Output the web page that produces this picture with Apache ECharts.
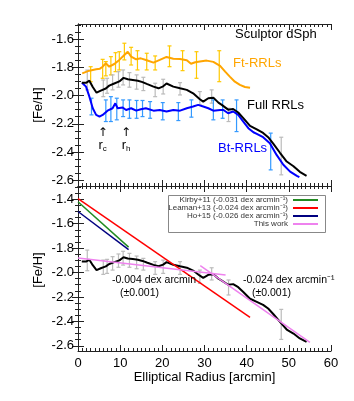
<!DOCTYPE html>
<html><head><meta charset="utf-8">
<script src="https://cdn.jsdelivr.net/npm/echarts@6/dist/echarts.min.js"></script>
<style>html,body{margin:0;padding:0;background:#fff}#c{width:354px;height:401px}</style>
</head><body><div id="c"></div>
<script>
// ---- data (elliptical radius [arcmin], [Fe/H]) ----
const fullRRL = [[0.9,-1.91],[1.9,-1.91],[2.7,-1.895],[3.5,-1.94],[4.4,-1.98],[5.4,-1.965],[6.6,-1.95],[7.4,-1.93],[8.6,-1.915],[9.8,-1.90],[10.8,-1.875],[11.8,-1.885],[13.0,-1.89],[14.2,-1.895],[15.3,-1.905],[16.3,-1.918],[17.9,-1.937],[19.1,-1.949],[20.2,-1.935],[21.0,-1.915],[22.6,-1.937],[24.2,-1.949],[25.8,-1.96],[27.3,-1.984],[28.9,-2.026],[29.7,-2.043],[30.9,-2.019],[32.1,-2.015],[33.3,-2.05],[34.1,-2.066],[35.6,-2.10],[36.8,-2.095],[38.0,-2.12],[39.2,-2.16],[40.8,-2.215],[42.4,-2.24],[43.9,-2.265],[45.1,-2.295],[46.3,-2.34],[47.9,-2.405],[49.5,-2.467],[51.1,-2.50],[52.6,-2.54],[54.2,-2.568]];
const ftRRL = [[1.0,-1.843],[2.7,-1.824],[4.3,-1.814],[5.2,-1.81],[5.85,-1.796],[6.6,-1.772],[7.4,-1.796],[8.6,-1.777],[9.8,-1.748],[11.0,-1.713],[11.8,-1.69],[12.6,-1.725],[13.8,-1.744],[14.9,-1.737],[16.3,-1.75],[17.9,-1.767],[19.4,-1.748],[21.0,-1.727],[22.6,-1.74],[24.2,-1.742],[25.8,-1.75],[26.8,-1.775],[27.8,-1.765],[28.9,-1.76],[30.5,-1.753],[32.1,-1.762],[33.7,-1.79],[34.9,-1.831],[36.0,-1.866],[37.2,-1.902],[38.4,-1.925],[39.6,-1.94],[40.8,-1.945]];
const btRRL = [[0.95,-1.909],[1.9,-1.937],[2.7,-2.008],[3.5,-2.09],[4.3,-2.137],[5.1,-2.149],[5.85,-2.137],[7.0,-2.107],[8.2,-2.09],[8.85,-2.055],[9.4,-2.09],[10.6,-2.085],[11.4,-2.102],[12.6,-2.09],[13.8,-2.107],[14.9,-2.097],[16.1,-2.09],[17.9,-2.107],[19.4,-2.102],[21.0,-2.113],[22.6,-2.102],[24.2,-2.107],[25.8,-2.09],[27.3,-2.078],[28.5,-2.066],[29.7,-2.078],[30.9,-2.09],[32.1,-2.107],[33.7,-2.102],[34.5,-2.102],[35.6,-2.125],[36.8,-2.113],[38.0,-2.137],[39.2,-2.184],[40.4,-2.231],[41.6,-2.26],[42.4,-2.271],[43.9,-2.295],[45.5,-2.337],[47.1,-2.42],[48.7,-2.49],[50.3,-2.538],[51.9,-2.568],[52.5,-2.577]];
// error bars: [radius, low, high]
const fullErrTop = [[2.2,-1.82,-1.96],[6.0,-1.89,-2.008],[6.9,-1.878,-1.984],[8.2,-1.854,-1.96],[9.6,-1.831,-1.941],[10.7,-1.819,-1.925],[12.2,-1.838,-1.941],[13.9,-1.854,-1.955],[15.5,-1.871,-1.965],[18.3,-1.913,-2.008],[20.2,-1.885,-1.989],[24.2,-1.909,-1.996],[28.9,-1.972,-2.066],[31.7,-1.96,-2.054],[35.7,-2.09,-2.184],[48.2,-2.295,-2.561]];
const fullErrBottom = [[2.2,-1.816,-1.985],[6.0,-1.898,-2.015],[6.9,-1.892,-2.007],[8.2,-1.87,-1.98],[9.6,-1.848,-1.957],[10.7,-1.826,-1.939],[12.2,-1.843,-1.957],[13.9,-1.865,-1.969],[15.5,-1.884,-1.98],[18.3,-1.911,-2.015],[20.2,-1.898,-2.007],[24.2,-1.911,-2.015],[28.9,-1.98,-2.089],[31.7,-1.961,-2.061],[35.7,-2.061,-2.184],[48.2,-2.302,-2.548]];
const ftErr = [[3.0,-1.796,-1.902],[5.85,-1.744,-1.878],[6.6,-1.76,-1.861],[7.8,-1.725,-1.854],[8.9,-1.697,-1.831],[9.8,-1.69,-1.819],[11.0,-1.63,-1.748],[12.6,-1.659,-1.784],[14.1,-1.683,-1.819],[16.3,-1.701,-1.819],[18.3,-1.72,-1.819],[21.7,-1.649,-1.796],[24.8,-1.683,-1.824],[28.1,-1.69,-1.878],[33.5,-1.683,-1.902]];
const btErr = [[3.2,-2.019,-2.137],[6.6,-2.031,-2.184],[7.8,-2.008,-2.184],[9.2,-2.019,-2.172],[10.7,-2.031,-2.149],[12.2,-2.031,-2.161],[13.9,-2.035,-2.161],[15.3,-2.035,-2.149],[17.1,-2.043,-2.161],[20.1,-2.05,-2.172],[23.8,-2.05,-2.177],[26.9,-2.031,-2.153],[32.1,-2.031,-2.172],[34.3,-2.031,-2.161],[37.6,-2.031,-2.255],[45.7,-2.266,-2.526]];
// gradient lines (endpoints)
const kirbyFit = [[0,-1.42],[12,-1.792]];
const leamanFit = [[0,-1.395],[40.8,-2.367]];
const hoFit = [[0,-1.50],[12,-1.812]];
const thisWorkInner = [[0,-1.88],[35,-2.02]];
const thisWorkOuter = [[29,-1.944],[55,-2.573]];
// radii markers
const radii = [{name:'c', r:5.85},{name:'h', r:11.4}];
// ticks
const xTicks = [0,10,20,30,40,50,60];
const yTicksTop = [-2.6,-2.4,-2.2,-2.0,-1.8,-1.6];
const yTicksBottom = [-2.6,-2.4,-2.2,-2.0,-1.8,-1.6,-1.4];

function steps(a,b,s){const r=[];for(let v=a;v<=b+1e-9;v+=s)r.push(+v.toFixed(3));return r;}
const xMinor = steps(0,60,1);
const yMinorTop = steps(-2.6,-1.5,0.05);
const yMinorBottom = steps(-2.6,-1.3,0.05);

const FONT = '"Liberation Sans", Arial, Helvetica, sans-serif';
const AX = '#222';
const rects = [{left:78,right:23,top:24,height:162},{left:78,right:23,top:186,height:165}];
const yr = [{min:-2.640,max:-1.494},{min:-2.643,max:-1.291}];
const grid = [rects[0],rects[1],rects[0],rects[1]];

const xAxis = [], yAxis = [];
function xa(g,pos,ticks,len,line,label,name){
  return {type:'value',gridIndex:g,position:pos,min:0,max:60,
    axisLine:{show:line,lineStyle:{color:AX,width:1}},
    axisTick:{show:true,inside:true,length:len,customValues:ticks,lineStyle:{color:AX,width:1}},
    axisLabel:{show:label,customValues:xTicks,margin:6,color:'#000',fontSize:13,fontFamily:FONT},
    splitLine:{show:false},
    name:name||'',nameLocation:'middle',nameGap:20,nameTextStyle:{fontSize:13,fontFamily:FONT,color:'#000'}};
}
function ya(g,pos,ticks,len,line,label,r,lab){
  return {type:'value',gridIndex:g,position:pos,min:r.min,max:r.max,
    axisLine:{show:line,lineStyle:{color:AX,width:1}},
    axisTick:{show:true,inside:true,length:len,customValues:ticks,lineStyle:{color:AX,width:1}},
    axisLabel:{show:label,customValues:lab,margin:4,color:'#000',fontSize:13,fontFamily:FONT,formatter:v=>v.toFixed(1)},
    splitLine:{show:false}};
}
// major axes
xAxis.push(xa(0,'bottom',xTicks,6,true,false));   //0
xAxis.push(xa(0,'top',xTicks,6,true,false));      //1
xAxis.push(xa(1,'bottom',xTicks,6,true,true,'Elliptical Radius [arcmin]')); //2
xAxis.push(xa(1,'top',xTicks,6,true,false));      //3
xAxis.push(xa(2,'bottom',xMinor,3,false,false));  //4
xAxis.push(xa(2,'top',xMinor,3,false,false));     //5
xAxis.push(xa(3,'bottom',xMinor,3,false,false));  //6
xAxis.push(xa(3,'top',xMinor,3,false,false));     //7
yAxis.push(ya(0,'left',yTicksTop,6,true,true,yr[0],yTicksTop));     //0
yAxis.push(ya(0,'right',yTicksTop,6,true,false,yr[0],yTicksTop));   //1
yAxis.push(ya(1,'left',yTicksBottom,6,true,true,yr[1],yTicksBottom)); //2
yAxis.push(ya(1,'right',yTicksBottom,6,true,false,yr[1],yTicksBottom)); //3
yAxis.push(ya(2,'left',yMinorTop,3,false,false,yr[0],yTicksTop));   //4
yAxis.push(ya(2,'right',yMinorTop,3,false,false,yr[0],yTicksTop));  //5
yAxis.push(ya(3,'left',yMinorBottom,3,false,false,yr[1],yTicksBottom)); //6
yAxis.push(ya(3,'right',yMinorBottom,3,false,false,yr[1],yTicksBottom)); //7

function errSeries(data,color,xi,yi){
  return {type:'custom',xAxisIndex:xi,yAxisIndex:yi,data:data,silent:true,z:2,
    encode:{x:0,y:[1,2]},
    renderItem:function(params,api){
      const x=api.value(0);
      const lo=api.coord([x,api.value(1)]), hi=api.coord([x,api.value(2)]);
      const w=2, st={stroke:color,lineWidth:1.2};
      return {type:'group',children:[
        {type:'line',shape:{x1:lo[0],y1:lo[1],x2:hi[0],y2:hi[1]},style:st},
        {type:'line',shape:{x1:lo[0]-w,y1:lo[1],x2:lo[0]+w,y2:lo[1]},style:st},
        {type:'line',shape:{x1:hi[0]-w,y1:hi[1],x2:hi[0]+w,y2:hi[1]},style:st}]};
    }};
}
function lineSeries(name,data,color,width,xi,yi,z){
  return {type:'line',name:name,data:data,xAxisIndex:xi,yAxisIndex:yi,symbol:'none',showSymbol:false,
    lineStyle:{color:color,width:width},itemStyle:{color:color},z:z||3,silent:true};
}

const fullTop = lineSeries('Full RRLs',fullRRL,'#000',2,0,0,4);
fullTop.markPoint = {symbol:'circle',symbolSize:1,itemStyle:{color:'rgba(0,0,0,0)'},silent:true,
  data: radii.map(d=>({coord:[d.r,-2.315],name:d.name})),
  label:{show:true,position:'inside',formatter:p=>'{a|↑}\n{r|r}{s|'+p.name+'}',
    rich:{a:{fontSize:12,lineHeight:11,color:'#000',fontFamily:'"DejaVu Sans", sans-serif'},
          r:{fontSize:13,lineHeight:14,color:'#000',fontFamily:FONT},
          s:{fontSize:8,lineHeight:14,color:'#000',fontFamily:FONT,verticalAlign:'bottom',padding:[6,0,0,0]}}}};

const series = [
  errSeries(ftErr,'#FFC800',0,0),
  errSeries(fullErrTop,'#BBBBBB',0,0),
  errSeries(btErr,'#3399FF',0,0),
  lineSeries('Ft-RRLs',ftRRL,'#FFA500',2,0,0,3),
  fullTop,
  lineSeries('Bt-RRLs',btRRL,'#0000FF',2,0,0,3),
  errSeries(fullErrBottom,'#BBBBBB',2,2),
  lineSeries('Full RRLs bottom',fullRRL,'#000',2,2,2,3),
  lineSeries('Kirby+11 (-0.031 dex arcmin⁻¹)',kirbyFit,'#228B22',1.5,2,2,4),
  lineSeries('Leaman+13 (-0.024 dex arcmin⁻¹)',leamanFit,'#FF0000',1.5,2,2,4),
  lineSeries('Ho+15 (-0.026 dex arcmin⁻¹)',hoFit,'#000080',1.5,2,2,4),
  lineSeries('This work',thisWorkInner,'#EE82EE',1.5,2,2,5),
  lineSeries('This work',thisWorkOuter,'#EE82EE',1.5,2,2,5)
];

const legendNames = ['Kirby+11 (-0.031 dex arcmin⁻¹)','Leaman+13 (-0.024 dex arcmin⁻¹)','Ho+15 (-0.026 dex arcmin⁻¹)','This work'];
const legend = legendNames.map((n,i)=>({data:[n],right:36,top:196+i*8,orient:'horizontal',align:'right',
  icon:'rect',itemWidth:25,itemHeight:2,padding:0,itemGap:0,selectedMode:false,z:10,
  textStyle:{fontSize:8,color:'#333',fontFamily:FONT,lineHeight:8}}));

function txt(t,x,y,color,size,align,rot){
  return {type:'text',x:x,y:y,rotation:rot||0,z:20,silent:true,style:{text:t,fill:color,font:size+'px '+FONT,align:align||'left',verticalAlign:'middle'}};
}
const graphic = [
  {type:'rect',shape:{x:168.5,y:195.5,width:157,height:37},style:{fill:'#fff',stroke:'#888',lineWidth:1},z:8,silent:true},
  txt('[Fe/H]',38,105,'#000',13,'center',Math.PI/2),
  txt('[Fe/H]',38,270,'#000',13,'center',Math.PI/2),
  txt('Sculptor dSph',235,34,'#000',13),
  txt('Ft-RRLs',233,63,'#FFA500',13),
  txt('Full RRLs',247,105,'#000',13),
  txt('Bt-RRLs',218,148,'#0000FF',13),
  txt('-0.004 dex arcmin',112,280,'#000',10.5),
  txt('(±0.001)',120,293,'#000',10.5),
  txt('-0.024 dex arcmin⁻¹',243,280,'#000',10.5),
  txt('(±0.001)',252,293,'#000',10.5)
];

const chart = echarts.init(document.getElementById('c'),null,{renderer:'canvas'});
chart.setOption({animation:false,backgroundColor:'#fff',grid:grid,xAxis:xAxis,yAxis:yAxis,series:series,legend:legend,graphic:graphic});
</script></body></html>
